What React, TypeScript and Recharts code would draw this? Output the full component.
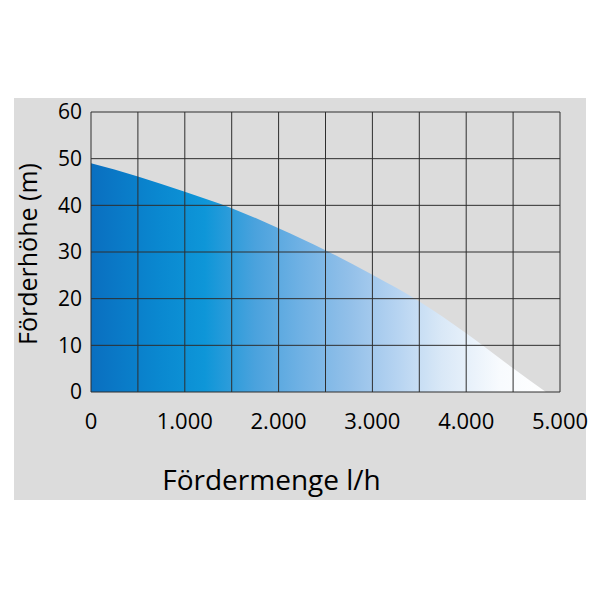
import { AreaChart, Area, XAxis, YAxis, CartesianGrid } from 'recharts';

const flow = [0, 500, 1000, 1500, 2000, 2500, 3000, 3500, 4000, 4500, 4850];
const head = [49, 46.2, 42.9, 39.4, 35.1, 30.4, 25.1, 19.4, 12.6, 5.1, 0];

const xTicks = [0, 1000, 2000, 3000, 4000, 5000];
const yTicks = [0, 10, 20, 30, 40, 50, 60];
const gridX = [0, 500, 1000, 1500, 2000, 2500, 3000, 3500, 4000, 4500, 5000];

const data = flow.map((q, i) => ({ q, h: head[i] }));

const font = '"Open Sans", "DejaVu Sans", sans-serif';

// 1000 -> "1.000"
const fmt = (v: number) => String(v).replace(/\B(?=(\d{3})+(?!\d))/g, '.');

export default function App() {
    return (
        <div style={{ position: 'absolute', left: 0, top: 0, width: 600, height: 600, background: '#fff' }}>
            <div style={{ position: 'absolute', left: 14, top: 98, width: 572, height: 402, background: '#dcdcdc' }} />
            <div style={{ position: 'absolute', left: 0, top: 0 }}>
                <AreaChart width={600} height={600} data={data} margin={{ top: 112, right: 40, bottom: 0, left: 0 }}>
                    <defs>
                        <linearGradient id="pumpFill" x1="0" y1="0" x2="1" y2="0">
                            <stop offset="0" stopColor="#0a6fc0" />
                            <stop offset="0.15" stopColor="#0a88d0" />
                            <stop offset="0.25" stopColor="#0e96d8" />
                            <stop offset="0.36" stopColor="#4aa2dd" />
                            <stop offset="0.46" stopColor="#6fb1e4" />
                            <stop offset="0.57" stopColor="#93c0e9" />
                            <stop offset="0.67" stopColor="#b5d3f1" />
                            <stop offset="0.77" stopColor="#d9e8f7" />
                            <stop offset="0.9" stopColor="#f8fbfe" />
                            <stop offset="1" stopColor="#ffffff" />
                        </linearGradient>
                    </defs>
                    <XAxis
                        dataKey="q"
                        type="number"
                        domain={[0, 5000]}
                        ticks={xTicks}
                        tickFormatter={fmt}
                        height={208}
                        axisLine={false}
                        tickLine={false}
                        tickSize={6}
                        tickMargin={15}
                        tick={{ fill: '#000', fontSize: 22, fontFamily: font }}
                        label={{
                            content: ({ viewBox }: any) => (
                                <text
                                    x={viewBox.x + viewBox.width / 2 - 54}
                                    y={viewBox.y + 98}
                                    textAnchor="middle"
                                    fontSize={28}
                                    fontFamily={font}
                                    fill="#000"
                                >
                                    Fördermenge l/h
                                </text>
                            ),
                        }}
                    />
                    <YAxis
                        type="number"
                        domain={[0, 60]}
                        ticks={yTicks}
                        width={91}
                        axisLine={false}
                        tickLine={false}
                        tickSize={6}
                        tickMargin={3}
                        tick={{ fill: '#000', fontSize: 21, fontFamily: font }}
                        label={{
                            content: ({ viewBox }: any) => (
                                <text
                                    transform={`translate(${viewBox.x + 37}, ${viewBox.y + viewBox.height / 2 + 2}) rotate(-90)`}
                                    textAnchor="middle"
                                    fontSize={25}
                                    fontFamily={font}
                                    fill="#000"
                                >
                                    Förderhöhe (m)
                                </text>
                            ),
                        }}
                    />
                    <Area
                        type="monotone"
                        dataKey="h"
                        stroke="none"
                        fill="url(#pumpFill)"
                        fillOpacity={1}
                        isAnimationActive={false}
                    />
                    <CartesianGrid
                        stroke="#2e2e2e"
                        strokeOpacity={1}
                        verticalValues={gridX}
                        horizontalValues={yTicks}
                        zIndex={500}
                    />
                </AreaChart>
            </div>
        </div>
    );
}
